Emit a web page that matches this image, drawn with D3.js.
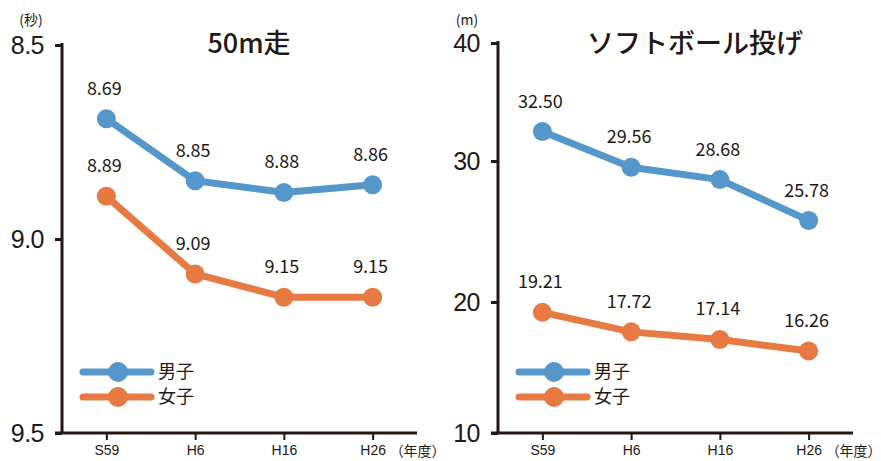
<!DOCTYPE html>
<html>
<head>
<meta charset="utf-8">
<script src="https://cdn.jsdelivr.net/npm/d3@7"></script>
<style>
  body { margin: 0; background: #fff; }
  svg { font-family: "Noto Sans CJK JP", "Noto Sans", sans-serif; }
</style>
</head>
<body>
<div id="chart"></div>
<script>
// data
const years = ["S59", "H6", "H16", "H26"];
const runBoys = [8.69, 8.85, 8.88, 8.86];
const runGirls = [8.89, 9.09, 9.15, 9.15];
const throwBoys = [32.50, 29.56, 28.68, 25.78];
const throwGirls = [19.21, 17.72, 17.14, 16.26];
const runTicks = [8.5, 9.0, 9.5];
const throwTicks = [10, 20, 30, 40];
const seriesNames = ["男子", "女子"];

const blue = "#5597cb";
const orange = "#e67a42";
const ink = "#231815";

const svg = d3.select("#chart")
    .append("svg")
    .attr("width", 881)
    .attr("height", 461);

// draw one panel
function drawPanel(opt) {
    const g = svg.append("g");

    const x = d3.scalePoint(years, [opt.left, opt.left + 355]).padding(0.5);
    const y = opt.y;

    // y axis
    const yAxis = d3.axisLeft(y)
        .tickValues(opt.ticks)
        .tickFormat(d3.format(opt.tickFmt))
        .tickSize(7)
        .tickSizeOuter(0)
        .tickPadding(11);
    const ya = g.append("g")
        .attr("transform", `translate(${opt.left},0)`)
        .call(yAxis);
    ya.select(".domain").remove();
    ya.selectAll(".tick line").attr("stroke", ink).attr("stroke-width", 3);
    ya.selectAll(".tick text")
        .attr("fill", ink)
        .style("font-size", "25px")
        .style("letter-spacing", "-0.5px");

    // x axis
    const xAxis = d3.axisBottom(x).tickSize(7).tickSizeOuter(0).tickPadding(5);
    const xa = g.append("g")
        .attr("transform", `translate(0,${opt.bottom})`)
        .call(xAxis);
    xa.select(".domain").remove();
    xa.selectAll(".tick line").attr("stroke", ink).attr("stroke-width", 2);
    xa.selectAll(".tick text")
        .attr("fill", ink)
        .style("font-size", "14px");

    // axis lines
    g.append("line")
        .attr("x1", opt.left).attr("x2", opt.left)
        .attr("y1", opt.top - 2).attr("y2", opt.bottom)
        .attr("stroke", ink).attr("stroke-width", 3);
    g.append("line")
        .attr("x1", opt.left - 7).attr("x2", opt.left + 355)
        .attr("y1", opt.bottom).attr("y2", opt.bottom)
        .attr("stroke", ink).attr("stroke-width", 3);

    // units
    g.append("text")
        .attr("x", opt.unitX).attr("y", 25)
        .attr("text-anchor", "middle")
        .attr("fill", ink)
        .style("font-size", "14px")
        .text(opt.unit);
    g.append("text")
        .attr("x", x("H26") + 17).attr("y", 456)
        .attr("fill", ink)
        .style("font-size", "14px")
        .text("（年度）");

    // title
    g.append("text")
        .attr("x", opt.titleX).attr("y", 53)
        .attr("text-anchor", "middle")
        .attr("fill", ink)
        .style("font-size", "27px")
        .style("font-weight", 500)
        .text(opt.title);

    const line = d3.line()
        .x((d, i) => x(years[i]))
        .y(d => y(d));

    [[opt.boys, blue], [opt.girls, orange]].forEach(function(s) {
        const vals = s[0], col = s[1];
        g.append("path")
            .datum(vals)
            .attr("d", line)
            .attr("fill", "none")
            .attr("stroke", col)
            .attr("stroke-width", 7)
            .attr("stroke-linejoin", "round");
        g.selectAll(null)
            .data(vals)
            .enter()
            .append("circle")
            .attr("cx", (d, i) => x(years[i]))
            .attr("cy", d => y(d))
            .attr("r", 9.5)
            .attr("fill", col);
        g.selectAll(null)
            .data(vals)
            .enter()
            .append("text")
            .attr("x", (d, i) => x(years[i]) - 2)
            .attr("y", d => y(d) - 24)
            .attr("text-anchor", "middle")
            .attr("fill", ink)
            .style("font-size", "18px")
            .text(d => d3.format(".2f")(d));
    });

    // legend
    [blue, orange].forEach(function(col, i) {
        const ly = 372 + i * 25;
        const lx = opt.left + 21;
        g.append("line")
            .attr("x1", lx).attr("x2", lx + 68)
            .attr("y1", ly).attr("y2", ly)
            .attr("stroke", col).attr("stroke-width", 7)
            .attr("stroke-linecap", "round");
        g.append("circle")
            .attr("cx", lx + 35).attr("cy", ly)
            .attr("r", 10)
            .attr("fill", col);
        g.append("text")
            .attr("x", lx + 75).attr("y", ly)
            .attr("dy", "0.36em")
            .attr("fill", ink)
            .style("font-size", "18px")
            .text(seriesNames[i]);
    });
}

drawPanel({
    left: 62, top: 45, bottom: 433,
    y: d3.scaleLinear([8.5, 9.5], [45, 433]),
    ticks: runTicks, tickFmt: ".1f",
    boys: runBoys, girls: runGirls,
    unit: "(秒)", unitX: 31,
    title: "50m走", titleX: 249
});

drawPanel({
    left: 498, top: 43, bottom: 433,
    y: d3.scaleLinear([10, 20, 30, 40], [433, 302, 161, 43]),
    ticks: throwTicks, tickFmt: "d",
    boys: throwBoys, girls: throwGirls,
    unit: "(m)", unitX: 467,
    title: "ソフトボール投げ", titleX: 695
});
</script>
</body>
</html>
